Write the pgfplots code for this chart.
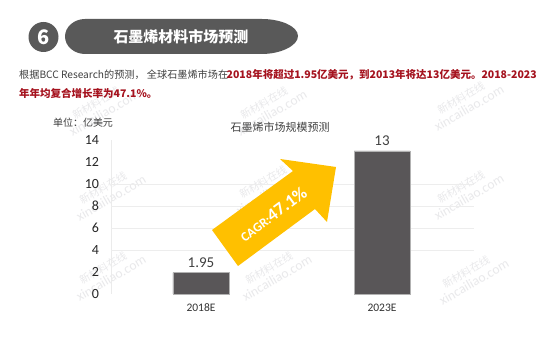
\documentclass[border=0pt]{standalone}
\usepackage{pgfplots}
\pgfplotsset{compat=1.18}
\usepackage{fontspec}
\setmainfont{Noto Sans CJK SC}
\newfontfamily\car{Carlito}
\definecolor{wm}{HTML}{E9E9EB}
\definecolor{barc}{HTML}{595658}
\definecolor{gold}{HTML}{FFC000}
\definecolor{darkred}{HTML}{A5121E}
\definecolor{txt}{HTML}{404040}
\definecolor{badge}{HTML}{595959}
\newcommand{\fs}[1]{\fontsize{#1}{#1}\selectfont}
\newcommand{\wmk}[2]{%
  \node[rotate=30,text=wm,font=\fs{10.5}] at (#1-4,#2-5) {新材料在线};
  \node[rotate=30,text=wm,font=\car\fs{13.5}] at (#1+4,#2+5) {xincailiao.com};}
\begin{document}
\begin{tikzpicture}[x=1pt,y=1pt]
\path[fill=white] (0,0) rectangle (550,353);
\begin{scope}[x=1pt,y=-1pt,shift={(0,353pt)}]
\wmk{100}{108}\wmk{268}{108}\wmk{465}{103}
\wmk{107}{193}\wmk{267}{187}\wmk{465}{192}
\wmk{107}{273}\wmk{273}{273}\wmk{470}{277}
\end{scope}
\begin{axis}[
  at={(111.5pt,59pt)}, anchor=south west,
  scale only axis, width=362.5pt, height=154pt,
  xmin=-0.494, xmax=1.508, ymin=0, ymax=14,
  axis x line=none,
  axis y line=left,
  y axis line style={draw=black!8,-},
  ytick={0,2,...,14},
  major tick length=0pt,
  extra y ticks={4,6,8,10},
  extra y tick labels={},
  extra y tick style={grid=major,major grid style={draw=black!7,line width=0.6pt}},
  /pgf/number format/assume math mode=true,
  yticklabel style={font=\car\fs{14},text=black!85,anchor=east,xshift=-9pt},
  clip=false,
]
\addplot[ybar,bar width=56pt,fill=barc,draw=black!30,line width=0.4pt,
  nodes near coords,
  nodes near coords style={font=\car\fs{15},text=txt,anchor=south,yshift=1.5pt},
  point meta=explicit symbolic]
  coordinates {(0,1.95)[1.95] (1,13)[13]};
\end{axis}
\begin{scope}[x=1pt,y=-1pt,shift={(0,353pt)}]
% header
\fill[badge] (43.5,37) circle (15);
\node[text=white,font=\bfseries\fs{20}] at (43.5,37) {6};
\fill[badge] (85,19) -- (262,19) .. controls (280,19) and (298,26) .. (298,36) .. controls (298,46) and (280,54) .. (262,54) -- (85,54) .. controls (74,54) and (65,46) .. (65,36.5) .. controls (65,27) and (74,19) .. (85,19) -- cycle;
\node[text=white,font=\bfseries\fs{15}] at (181,36.5) {石墨烯材料市场预测};
% body text
\node[anchor=west,inner sep=0,text=txt,font=\fs{10.15}] at (19,75) {根据BCC Research的预测， 全球石墨烯市场在};
\node[anchor=west,inner sep=0,text=darkred,font=\bfseries\fs{10.5}] at (226.5,75) {2018年将超过1.95亿美元，到2013年将达13亿美元。2018-2023};
\node[anchor=west,inner sep=0,text=darkred,font=\bfseries\fs{10.5}] at (19,93.5) {年年均复合增长率为47.1\%。};
% chart texts
\node[text=txt,font=\fs{10}] at (83,123) {单位：亿美元};
\node[text=txt,font=\fs{11}] at (280,127) {石墨烯市场规模预测};
\node[text=black!80,font=\car\fs{11.5}] at (201,308) {2018E};
\node[text=black!80,font=\car\fs{11.5}] at (382,308) {2023E};
% arrow
\fill[gold] (212,230) -- (293,171) -- (280,159) -- (336,167) -- (327,222) -- (315,209) -- (238,266) -- cycle;
\node[rotate=36.5,text=white,font=\bfseries] at (273,214) {{\car\fs{13}CAGR:}{\car\fs{18}47.1\%}};
\end{scope}
\end{tikzpicture}
\end{document}
